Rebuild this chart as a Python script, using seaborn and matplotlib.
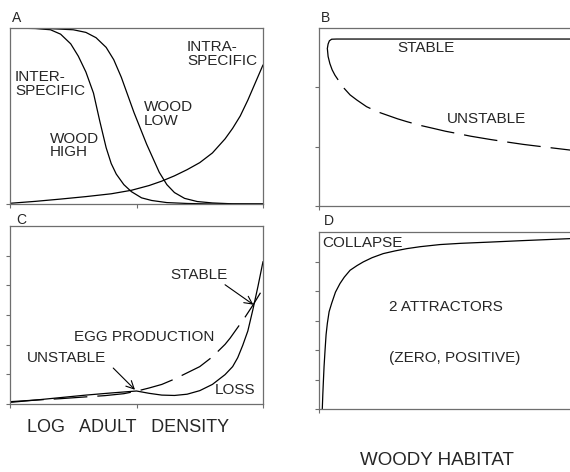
import numpy as np
import pandas as pd
import matplotlib
matplotlib.use("Agg")
import matplotlib.pyplot as plt
import seaborn as sns

# ---- panel A: competition curves vs log adult density ----
wood_high_x = [0.00, 0.10, 0.16, 0.20, 0.24, 0.27, 0.30, 0.33, 0.355, 0.38, 0.40,
               0.42, 0.45, 0.48, 0.52, 0.56, 0.62, 0.70, 0.80, 1.00]
wood_high_y = [1.000, 0.997, 0.99, 0.965, 0.91, 0.84, 0.75, 0.63, 0.47, 0.32, 0.23,
               0.17, 0.11, 0.07, 0.035, 0.02, 0.008, 0.003, 0.0, 0.0]

wood_low_x = [0.00, 0.15, 0.25, 0.30, 0.34, 0.38, 0.41, 0.44, 0.465, 0.49, 0.515,
              0.54, 0.565, 0.59, 0.62, 0.65, 0.69, 0.74, 0.80, 0.88, 1.00]
wood_low_y = [1.0, 0.997, 0.99, 0.975, 0.945, 0.89, 0.82, 0.72, 0.62, 0.52, 0.43,
              0.34, 0.26, 0.18, 0.11, 0.065, 0.032, 0.014, 0.006, 0.001, 0.0]

intra_x = [0.00, 0.10, 0.20, 0.30, 0.40, 0.48, 0.55, 0.60, 0.65, 0.70, 0.75, 0.80,
           0.85, 0.88, 0.91, 0.94, 0.97, 1.00]
intra_y = [0.004, 0.015, 0.028, 0.042, 0.058, 0.078, 0.105, 0.13, 0.16, 0.195, 0.235,
           0.29, 0.37, 0.43, 0.50, 0.59, 0.69, 0.79]

# ---- panel B: equilibria vs woody habitat ----
stable_b_x = [0.033, 0.036, 0.041, 0.05, 0.07, 1.00]
stable_b_y = [0.885, 0.91, 0.928, 0.937, 0.938, 0.938]

unstable_b_x = [0.033, 0.036, 0.043, 0.052, 0.063, 0.083, 0.10, 0.123, 0.15, 0.188,
                0.23, 0.268, 0.31, 0.347, 0.40, 0.452, 0.50, 0.544, 0.60, 0.676,
                0.75, 0.808, 0.90, 1.00]
unstable_b_y = [0.885, 0.84, 0.80, 0.765, 0.735, 0.693, 0.66, 0.624, 0.595, 0.558,
                0.53, 0.511, 0.49, 0.474, 0.453, 0.436, 0.42, 0.408, 0.392, 0.374,
                0.358, 0.346, 0.33, 0.313]

# ---- panel C: egg production and loss ----
loss_x = [0.00, 0.10, 0.20, 0.30, 0.40, 0.50, 0.55, 0.60, 0.65, 0.70, 0.75, 0.80,
          0.85, 0.88, 0.90, 0.92, 0.94, 0.96, 0.98, 1.00]
loss_y = [0.009, 0.022, 0.036, 0.05, 0.062, 0.073, 0.06, 0.05, 0.048, 0.055, 0.075,
          0.11, 0.165, 0.21, 0.26, 0.33, 0.41, 0.53, 0.66, 0.80]

egg_x = [0.00, 0.10, 0.20, 0.30, 0.375, 0.45, 0.50, 0.55, 0.60, 0.65, 0.70, 0.75,
         0.80, 0.85, 0.87, 0.90, 0.93, 0.96, 0.99]
egg_y = [0.013, 0.022, 0.030, 0.040, 0.047, 0.058, 0.072, 0.09, 0.11, 0.14, 0.175,
         0.21, 0.265, 0.335, 0.37, 0.43, 0.49, 0.555, 0.625]

# ---- panel D: collapse boundary ----
collapse_x = [0.013, 0.015, 0.017, 0.020, 0.024, 0.028, 0.033, 0.040, 0.05, 0.065,
              0.083, 0.10, 0.123, 0.15, 0.175, 0.21, 0.254, 0.30, 0.347, 0.40,
              0.478, 0.56, 0.676, 0.80, 0.90, 1.00]
collapse_y = [0.0, 0.08, 0.146, 0.24, 0.334, 0.42, 0.484, 0.55, 0.597, 0.66,
              0.709, 0.745, 0.784, 0.81, 0.831, 0.855, 0.878, 0.893, 0.906, 0.917,
              0.929, 0.936, 0.943, 0.951, 0.957, 0.963]

sns.set_style("ticks")
plt.rcParams['font.family'] = ['Liberation Sans', 'DejaVu Sans']

spine_col = '#6e6e6e'
line_kw = dict(color='black', linewidth=0.9)
dash = (0, (27, 8))
fs = 11

fig = plt.figure(figsize=(5.7, 4.72), dpi=100)
W, H = 570.0, 472.0


def make_axes(left, top, right, bottom):
    return fig.add_axes([left / W, 1 - bottom / H, (right - left) / W, (bottom - top) / H])


axA = make_axes(10, 28, 263, 204)
axB = make_axes(319, 28, 572, 206)
axC = make_axes(10, 226, 263, 404)
axD = make_axes(319, 232, 572, 409)

for ax in (axA, axB, axC, axD):
    ax.set_xlim(0, 1)
    ax.set_ylim(0, 1)
    for s in ax.spines.values():
        s.set_visible(True)
        s.set_color(spine_col)
        s.set_linewidth(0.9)
    ax.tick_params(direction='out', length=3, width=0.8, color=spine_col,
                   labelbottom=False, labelleft=False)
    ax.set_facecolor('white')

axA.set_xticks([0, 0.5, 1])
axA.set_yticks([0])
axB.set_xticks([0])
axB.set_yticks([0, 1 / 3, 2 / 3])
axC.set_xticks([0, 0.5, 1])
axC.set_yticks([i / 6 for i in range(6)])
axD.set_xticks([0])
axD.set_yticks([i / 6 for i in range(6)])

# panel A
sns.lineplot(x=wood_high_x, y=wood_high_y, ax=axA, **line_kw)
sns.lineplot(x=wood_low_x, y=wood_low_y, ax=axA, **line_kw)
sns.lineplot(x=intra_x, y=intra_y, ax=axA, **line_kw)
axA.text(0.02, 0.76, "INTER-\nSPECIFIC", fontsize=fs, va='top', linespacing=0.95)
axA.text(0.158, 0.41, "WOOD\nHIGH", fontsize=fs, va='top', linespacing=0.95)
axA.text(0.53, 0.59, "WOOD\nLOW", fontsize=fs, va='top', linespacing=0.95)
axA.text(0.70, 0.93, "INTRA-\nSPECIFIC", fontsize=fs, va='top', linespacing=0.95)

# panel B
sns.lineplot(x=stable_b_x, y=stable_b_y, ax=axB, **line_kw)
sns.lineplot(x=unstable_b_x, y=unstable_b_y, ax=axB, linestyle=dash, **line_kw)
axB.text(0.31, 0.925, "STABLE", fontsize=fs, va='top')
axB.text(0.507, 0.53, "UNSTABLE", fontsize=fs, va='top')

# panel C
sns.lineplot(x=loss_x, y=loss_y, ax=axC, **line_kw)
sns.lineplot(x=egg_x, y=egg_y, ax=axC, linestyle=dash, **line_kw)
axC.text(0.632, 0.765, "STABLE", fontsize=fs, va='top')
axC.text(0.253, 0.418, "EGG PRODUCTION", fontsize=fs, va='top')
axC.text(0.068, 0.30, "UNSTABLE", fontsize=fs, va='top')
axC.text(0.81, 0.12, "LOSS", fontsize=fs, va='top')
arrow = dict(arrowstyle='->', lw=0.8, color='black', shrinkA=0, shrinkB=0,
             mutation_scale=14)
axC.annotate('', xy=(0.962, 0.558), xytext=(0.85, 0.67), arrowprops=arrow)
axC.annotate('', xy=(0.494, 0.08), xytext=(0.408, 0.202), arrowprops=arrow)

# panel D
sns.lineplot(x=collapse_x, y=collapse_y, ax=axD, **line_kw)
axD.text(0.011, 0.975, "COLLAPSE", fontsize=fs, va='top')
axD.text(0.277, 0.615, "2 ATTRACTORS", fontsize=fs, va='top')
axD.text(0.277, 0.33, "(ZERO, POSITIVE)", fontsize=fs, va='top')

# panel letters and axis captions
fig.text(12 / W, 1 - 11 / H, "A", fontsize=10, va='top')
fig.text(321 / W, 1 - 11 / H, "B", fontsize=10, va='top')
fig.text(16 / W, 1 - 213 / H, "C", fontsize=10, va='top')
fig.text(324 / W, 1 - 214 / H, "D", fontsize=10, va='top')
fig.text(128 / W, 1 - 419 / H, "LOG   ADULT   DENSITY", fontsize=13, va='top', ha='center')
fig.text(437 / W, 1 - 452 / H, "WOODY HABITAT", fontsize=13.5, va='top', ha='center')

fig.savefig("out.png", dpi=100, facecolor='white')
